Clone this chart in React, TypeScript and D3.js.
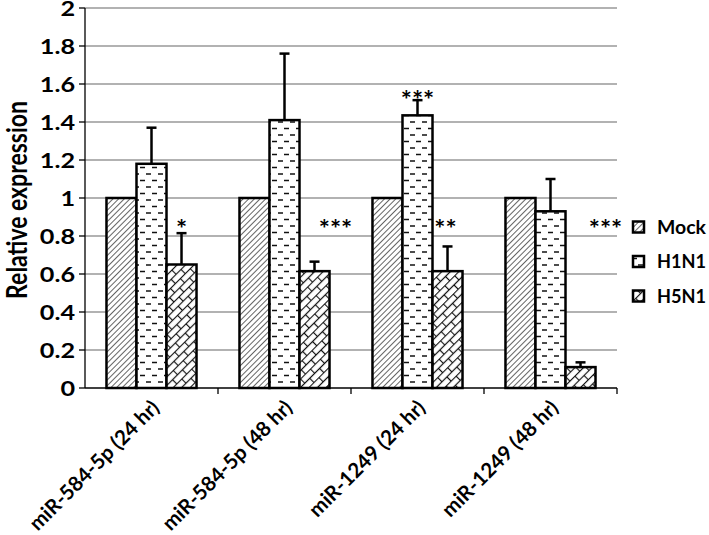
import React from "react";
import * as d3 from "d3";

// chart data
const categories = ["miR-584-5p (24 hr)", "miR-584-5p (48 hr)", "miR-1249 (24 hr)", "miR-1249 (48 hr)"];
const seriesNames = ["Mock", "H1N1", "H5N1"];
const mockValues = [1, 1, 1, 1];
const h1n1Values = [1.18, 1.41, 1.435, 0.93];
const h5n1Values = [0.65, 0.615, 0.615, 0.11];
const mockErrors = [0, 0, 0, 0];
const h1n1Errors = [0.19, 0.35, 0.08, 0.17];
const h5n1Errors = [0.165, 0.05, 0.13, 0.025];
const yTicks = [0, 0.2, 0.4, 0.6, 0.8, 1, 1.2, 1.4, 1.6, 1.8, 2];

// significance marks: [category index, series index, label, value level]
const sigMarks: [number, number, string, number][] = [
  [0, 2, "*", 0.87],
  [1, 2, "***", 0.87],
  [2, 1, "***", 1.55],
  [2, 2, "**", 0.87],
  [3, 2, "***", 0.87],
];
const sigShift = [0, 21, 0, -2, 25];

const W = 709;
const H = 535;
const left = 85;
const right = 617;
const top = 8;
const bottom = 388;
const FONT = "Lato, 'Open Sans', sans-serif";
const SX = 1.2; // horizontal stretch of the text in the source image

const series = [
  { name: seriesNames[0], values: mockValues, errors: mockErrors, fill: "url(#pMock)" },
  { name: seriesNames[1], values: h1n1Values, errors: h1n1Errors, fill: "url(#pH1)" },
  { name: seriesNames[2], values: h5n1Values, errors: h5n1Errors, fill: "url(#pH5)" },
];

export default function App() {
  const x = d3.scaleBand<string>().domain(categories).range([left, right])
    .paddingInner(0.323).paddingOuter(0.1615);
  const xs = d3.scaleBand<string>().domain(seriesNames).range([0, x.bandwidth()]);
  const y = d3.scaleLinear().domain([0, 2]).range([bottom, top]);
  const step = x.step();

  return (
    <svg width={W} height={H} style={{ position: "absolute", left: 0, top: 0, background: "#fff" }}>
      <defs>
        <pattern id="pMock" width="4" height="4" patternUnits="userSpaceOnUse" patternTransform="rotate(45)">
          <rect width="4" height="4" fill="#fff" />
          <line x1="0" y1="0" x2="0" y2="4" stroke="#111" strokeWidth="1.3" />
        </pattern>
        <pattern id="pH1" width="12" height="13" patternUnits="userSpaceOnUse" x="1" y="2">
          <rect width="12" height="13" fill="#fff" />
          <line x1="1" y1="3" x2="6" y2="3" stroke="#111" strokeWidth="1.5" />
          <line x1="7" y1="9.5" x2="12" y2="9.5" stroke="#111" strokeWidth="1.5" />
        </pattern>
        <pattern id="pH5" width="14" height="12" patternUnits="userSpaceOnUse" patternTransform="rotate(-45)">
          <rect width="14" height="12" fill="#fff" />
          <line x1="0" y1="0.5" x2="14" y2="0.5" stroke="#111" strokeWidth="1.2" />
          <line x1="0" y1="6.5" x2="14" y2="6.5" stroke="#111" strokeWidth="1.2" />
          <line x1="0.5" y1="0" x2="0.5" y2="6" stroke="#111" strokeWidth="1.2" />
          <line x1="7.5" y1="6" x2="7.5" y2="12" stroke="#111" strokeWidth="1.2" />
        </pattern>
      </defs>

      {/* gridlines */}
      {yTicks.filter((t) => t > 0).map((t) => (
        <line key={t} x1={left} x2={right} y1={y(t)} y2={y(t)} stroke="#999" strokeWidth={1.5} />
      ))}

      {/* y axis */}
      <line x1={left} x2={left} y1={top} y2={bottom} stroke="#000" strokeWidth={1.3} />
      {yTicks.map((t) => (
        <g key={t}>
          <line x1={left - 6} x2={left} y1={y(t)} y2={y(t)} stroke="#000" strokeWidth={1.3} />
          <text transform={`translate(${left - 10},${y(t)}) scale(${SX},1)`} dy="0.36em" textAnchor="end"
            fontFamily={FONT} fontWeight="bold" fontSize={21} fill="#000">{String(t)}</text>
        </g>
      ))}
      <text transform={`translate(17,${(top + bottom) / 2 + 2}) rotate(-90) scale(1,${SX})`} textAnchor="middle"
        dy="0.35em" fontFamily={FONT} fontWeight="bold" fontSize={23} fill="#000">Relative expression</text>

      {/* bars */}
      {series.map((s) => categories.map((c, i) => {
        const bx = (x(c) ?? 0) + (xs(s.name) ?? 0);
        return (
          <rect key={s.name + c} x={bx} y={y(s.values[i])} width={xs.bandwidth()}
            height={bottom - y(s.values[i])} fill={s.fill} stroke="#000" strokeWidth={2.5} />
        );
      }))}

      {/* error bars */}
      {series.map((s) => categories.map((c, i) => {
        if (!s.errors[i]) return null;
        const cx = (x(c) ?? 0) + (xs(s.name) ?? 0) + xs.bandwidth() / 2;
        const yt = y(s.values[i] + s.errors[i]);
        return (
          <g key={"e" + s.name + c}>
            <line x1={cx} x2={cx} y1={y(s.values[i])} y2={yt} stroke="#000" strokeWidth={2.5} />
            <line x1={cx - 5} x2={cx + 5} y1={yt} y2={yt} stroke="#000" strokeWidth={2.5} />
          </g>
        );
      }))}

      {/* x axis */}
      <line x1={left} x2={right} y1={bottom} y2={bottom} stroke="#000" strokeWidth={1.3} />
      {d3.range(1, categories.length + 1).map((k) => (
        <line key={k} x1={left + k * step} x2={left + k * step} y1={bottom} y2={bottom + 6}
          stroke="#000" strokeWidth={1.3} />
      ))}
      {categories.map((c) => {
        const cx = (x(c) ?? 0) + x.bandwidth() / 2 + 9;
        return (
          <text key={c} transform={`translate(${cx},${bottom + 21}) rotate(-45)`} textAnchor="end"
            fontFamily={FONT} fontWeight="bold" fontSize={20.5} fill="#000">{c}</text>
        );
      })}

      {/* significance marks */}
      {sigMarks.map(([ci, si, label, lv], k) => {
        const cx = (x(categories[ci]) ?? 0) + (xs(seriesNames[si]) ?? 0) + xs.bandwidth() / 2 + sigShift[k];
        return (
          <text key={k} transform={`translate(${cx},${y(lv)}) scale(1.05,1)`} dy="0.6em" textAnchor="middle"
            fontFamily={FONT} fontWeight="bold" fontSize={25} fill="#000">{label}</text>
        );
      })}

      {/* legend */}
      {series.map((s, i) => {
        const ly = 227 + i * 34.5;
        return (
          <g key={"l" + s.name}>
            <rect x={633} y={ly - 5.5} width={11} height={11} fill={s.fill} stroke="#000" strokeWidth={2.5} />
            <text x={657} y={ly} dy="0.36em" fontFamily={FONT} textLength={49} lengthAdjust="spacingAndGlyphs"
              fontWeight="bold" fontSize={19} fill="#000">{s.name}</text>
          </g>
        );
      })}
    </svg>
  );
}
